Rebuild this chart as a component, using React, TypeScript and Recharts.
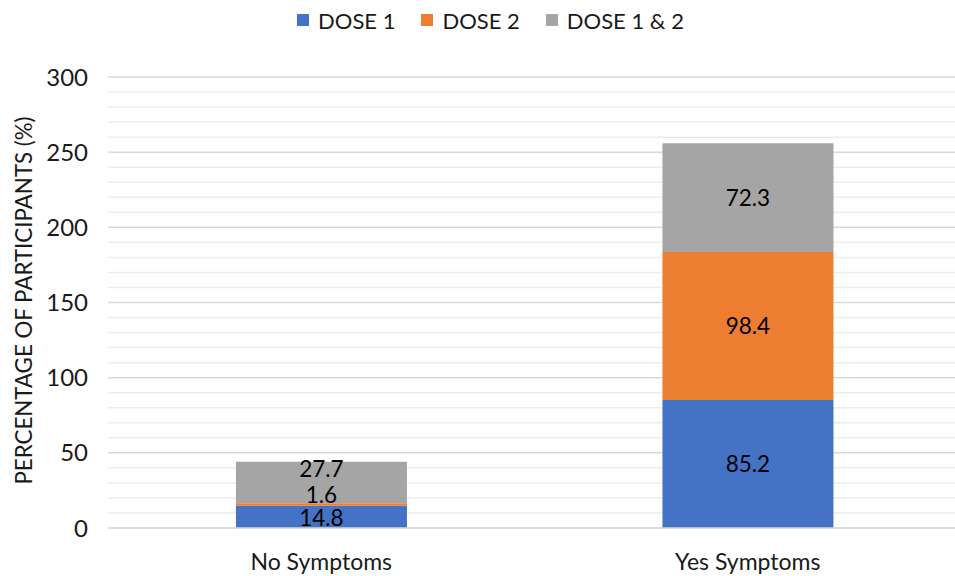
import React from 'react';
import { BarChart, Bar, XAxis, YAxis, CartesianGrid, Legend, LabelList } from 'recharts';

const categories = ['No Symptoms', 'Yes Symptoms'];
const dose1 = [14.8, 85.2];
const dose2 = [1.6, 98.4];
const dose12 = [27.7, 72.3];
const majorTicks = [0, 50, 100, 150, 200, 250, 300];
const minorTicks = [10, 20, 30, 40, 60, 70, 80, 90, 110, 120, 130, 140, 160, 170, 180, 190, 210, 220, 230, 240, 260, 270, 280, 290];
const yDomain = [0, 300];

const seriesNames = ['DOSE 1', 'DOSE 2', 'DOSE 1 & 2'];
const seriesColors = ['#4472C4', '#ED7D31', '#A5A5A5'];

const data = categories.map((c, i) => ({ name: c, d1: dose1[i], d2: dose2[i], d12: dose12[i] }));

const FONT = 'Lato, "Open Sans", sans-serif';
const TEXT = '#1a1a1a';

// label vertical nudges (px) for the crowded first bar, as in the original
const nudge: Record<string, number[]> = { d1: [1, 0], d2: [-10, 0], d12: [-14, 0] };

const makeLabel = (key: string) => (props: any) => {
  const { x, y, width, height, value, index } = props;
  const dy = nudge[key][index] || 0;
  return (
    <text
      x={x + width / 2}
      y={y + height / 2 + dy}
      textAnchor="middle"
      dominantBaseline="central"
      fontSize={22.5}
      fontFamily={FONT}
      fill="#000"
    >
      {value}
    </text>
  );
};

const LegendContent = () => (
  <div style={{ display: 'flex', justifyContent: 'center', alignItems: 'center', fontFamily: FONT, fontSize: 22, color: TEXT, height: 24, paddingLeft: 20 }}>
    {seriesNames.map((n, i) => (
      <div key={n} style={{ display: 'flex', alignItems: 'center', marginRight: i < seriesNames.length - 1 ? 26 : 0 }}>
        <span style={{ display: 'inline-block', width: 12, height: 12, background: seriesColors[i], marginRight: 9 }} />
        <span>{n}</span>
      </div>
    ))}
  </div>
);

const YTitle = (props: any) => {
  const { viewBox } = props;
  const cx = 23;
  const cy = viewBox.y + viewBox.height / 2 - 2;
  return (
    <text
      x={cx}
      y={cy}
      transform={`rotate(-90, ${cx}, ${cy})`}
      textAnchor="middle"
      dominantBaseline="central"
      fontSize={22.3}
      fontFamily={FONT}
      fill={TEXT}
    >
      PERCENTAGE OF PARTICIPANTS (%)
    </text>
  );
};

const minorGen = (props: any) => {
  const s = props?.yAxis?.scale;
  if (typeof s === 'function') return minorTicks.map((t) => s(t));
  if (s && typeof s.map === 'function') return minorTicks.map((t) => s.map(t));
  const off = props?.offset;
  if (!off) return [];
  return minorTicks.map((t) => off.top + off.height * (1 - (t - yDomain[0]) / (yDomain[1] - yDomain[0])));
};

export default function App() {
  return (
    <div style={{ position: 'absolute', left: 0, top: 0, background: '#fff' }}>
      <BarChart
        width={955}
        height={576}
        data={data}
        margin={{ top: 53, right: -6, bottom: 0, left: 0 }}
        barCategoryGap="30%"
      >
        <CartesianGrid vertical={false} stroke="#EDEDED" strokeWidth={1.5} horizontalCoordinatesGenerator={minorGen} />
        <CartesianGrid vertical={false} stroke="#D9D9D9" strokeWidth={1.5} />
        <XAxis
          dataKey="name"
          axisLine={{ stroke: '#D9D9D9', strokeWidth: 1.5 }}
          tickLine={false}
          tickSize={0}
          tickMargin={26}
          height={48}
          tick={{ fontSize: 23, fontFamily: FONT, fill: TEXT }}
        />
        <YAxis
          domain={yDomain}
          ticks={majorTicks}
          width={108}
          axisLine={false}
          tickLine={false}
          tickSize={0}
          tickMargin={20}
          tick={{ fontSize: 24, fontFamily: FONT, fill: TEXT }}
          label={<YTitle />}
        />
        <Legend
          verticalAlign="top"
          align="center"
          content={<LegendContent />}
          wrapperStyle={{ top: 8 }}
        />
        <Bar dataKey="d1" name="DOSE 1" stackId="a" fill={seriesColors[0]} isAnimationActive={false}>
          <LabelList dataKey="d1" content={makeLabel('d1')} />
        </Bar>
        <Bar dataKey="d2" name="DOSE 2" stackId="a" fill={seriesColors[1]} isAnimationActive={false}>
          <LabelList dataKey="d2" content={makeLabel('d2')} />
        </Bar>
        <Bar dataKey="d12" name="DOSE 1 & 2" stackId="a" fill={seriesColors[2]} isAnimationActive={false}>
          <LabelList dataKey="d12" content={makeLabel('d12')} />
        </Bar>
      </BarChart>
    </div>
  );
}
